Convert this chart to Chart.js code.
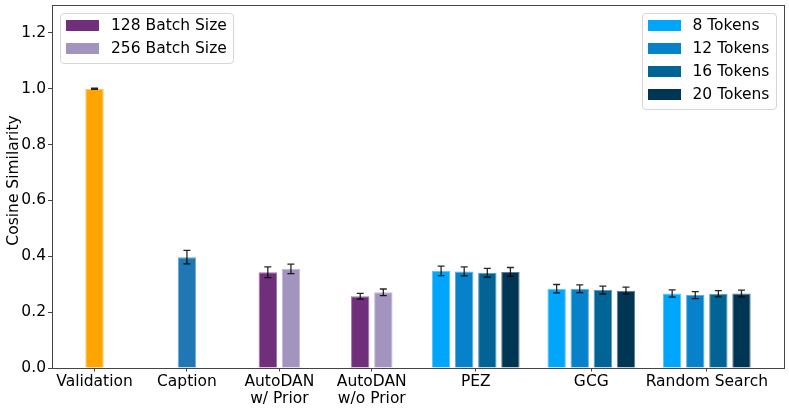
<!DOCTYPE html>
<html>
<head>
<meta charset="utf-8">
<title>Cosine Similarity by Method</title>
<script src="https://cdn.jsdelivr.net/npm/chart.js@4.4.1/dist/chart.umd.min.js"></script>
<style>
    body { margin: 0; background: #fff; }
    #wrap { position: relative; width: 789px; height: 411px; font-family: 'DejaVu Sans', sans-serif; }
    .legend { position: absolute; box-sizing: border-box; background: rgba(255, 255, 255, 0.8); border: 1px solid #d6d6d6; border-radius: 4px; }
    .legend .row { display: flex; align-items: center; height: 23px; font-size: 15.5px; color: #000; white-space: nowrap; }
    .legend .patch { width: 33px; height: 11px; margin: 0 12px 0 5px; flex: none; }
</style>
</head>
<body>
<div id="wrap">
    <canvas id="chart" width="789" height="411"></canvas>
    <div class="legend" id="batchLegend" style="left:60px; top:12.5px; width:174px; height:51px;"></div>
    <div class="legend" id="tokenLegend" style="left:641.5px; top:12.5px; width:135px; height:97.5px;"></div>
</div>
<script>
// Cosine similarity per method
const categories = ['Validation', 'Caption', 'AutoDAN\nw/ Prior', 'AutoDAN\nw/o Prior', 'PEZ', 'GCG', 'Random Search'];
const yTicks = [0, 0.2, 0.4, 0.6, 0.8, 1.0, 1.2];
const yTitle = 'Cosine Similarity';

// mean scores, null where a method has no such run
const validation = [1.0, null, null, null, null, null, null];
const caption    = [null, 0.397, null, null, null, null, null];
const batch128   = [null, null, 0.343, 0.257, null, null, null];
const batch256   = [null, null, 0.355, 0.271, null, null, null];
const tokens8    = [null, null, null, null, 0.348, 0.284, 0.267];
const tokens12   = [null, null, null, null, 0.346, 0.284, 0.261];
const tokens16   = [null, null, null, null, 0.341, 0.279, 0.266];
const tokens20   = [null, null, null, null, 0.344, 0.277, 0.267];

// error bar half lengths
const validationErr = [0.002, null, null, null, null, null, null];
const captionErr    = [null, 0.024, null, null, null, null, null];
const batch128Err   = [null, null, 0.019, 0.010, null, null, null];
const batch256Err   = [null, null, 0.017, 0.012, null, null, null];
const tokens8Err    = [null, null, null, null, 0.017, 0.015, 0.013];
const tokens12Err   = [null, null, null, null, 0.016, 0.014, 0.0125];
const tokens16Err   = [null, null, null, null, 0.016, 0.014, 0.011];
const tokens20Err   = [null, null, null, null, 0.016, 0.0125, 0.012];

const series = [
    { label: 'Validation', values: validation, errors: validationErr, color: '#FFA500' },
    { label: 'Caption', values: caption, errors: captionErr, color: '#1F77B4' },
    { label: '128 Batch Size', values: batch128, errors: batch128Err, color: '#702F7A' },
    { label: '256 Batch Size', values: batch256, errors: batch256Err, color: '#A393BF' },
    { label: '8 Tokens', values: tokens8, errors: tokens8Err, color: '#00A6FB' },
    { label: '12 Tokens', values: tokens12, errors: tokens12Err, color: '#0582CA' },
    { label: '16 Tokens', values: tokens16, errors: tokens16Err, color: '#006494' },
    { label: '20 Tokens', values: tokens20, errors: tokens20Err, color: '#003554' }
];

// layout of the grouped bars on a numeric x axis (axis units)
const BAR_STEP = 0.25;
const BAR_WIDTH = 0.2;
const FONT_SIZE = 15.5;

const counts = categories.map((_, c) => series.filter(s => s.values[c] != null).length);
const slots = counts.map(n => Math.max(1, (n + 1) * BAR_STEP));
const centers = [];
slots.forEach((w, i) => {
    centers.push(i === 0 ? 0 : centers[i - 1] + (slots[i - 1] + w) / 2);
});

const xFirst = centers[0] - (counts[0] - 1) / 2 * BAR_STEP - BAR_WIDTH / 2;
const xLast = centers[centers.length - 1] + (counts[counts.length - 1] - 1) / 2 * BAR_STEP + BAR_WIDTH / 2;
const xPad = (xLast - xFirst) * 0.05;

// lighter tint of a hex colour, used for the thin bar edge
function tint(hex, amount) {
    const n = parseInt(hex.slice(1), 16);
    const ch = [(n >> 16) & 255, (n >> 8) & 255, n & 255].map(v => Math.round(v + (255 - v) * amount));
    return `rgb(${ch.join(',')})`;
}

function buildDatasets() {
    const slotIndex = categories.map(() => 0);
    return series.map(s => {
        const data = [];
        s.values.forEach((v, c) => {
            if (v == null) return;
            const k = slotIndex[c]++;
            data.push({ x: centers[c] + (k - (counts[c] - 1) / 2) * BAR_STEP, y: v, err: s.errors[c] });
        });
        return {
            label: s.label,
            data: data,
            backgroundColor: s.color,
            borderColor: tint(s.color, 0.35),
            borderWidth: 1,
            grouped: false,
            categoryPercentage: 1,
            barPercentage: 10,
            maxBarThickness: 18.4
        };
    });
}

// error bars drawn through the y scale
const errorBarPlugin = {
    id: 'errorBars',
    afterDatasetsDraw(chart) {
        const ctx = chart.ctx;
        const yScale = chart.scales.y;
        ctx.save();
        ctx.strokeStyle = 'rgba(0, 0, 0, 0.85)';
        ctx.lineWidth = 1.3;
        chart.data.datasets.forEach((ds, di) => {
            chart.getDatasetMeta(di).data.forEach((bar, i) => {
                const p = ds.data[i];
                const top = yScale.getPixelForValue(p.y + p.err);
                const bottom = yScale.getPixelForValue(p.y - p.err);
                ctx.beginPath();
                ctx.moveTo(bar.x, top);
                ctx.lineTo(bar.x, bottom);
                ctx.moveTo(bar.x - 3.5, top);
                ctx.lineTo(bar.x + 3.5, top);
                ctx.moveTo(bar.x - 3.5, bottom);
                ctx.lineTo(bar.x + 3.5, bottom);
                ctx.stroke();
            });
        });
        ctx.restore();
    }
};

// box around the plot area and the y axis title
const framePlugin = {
    id: 'frame',
    afterDraw(chart) {
        const { left, top, right, bottom } = chart.chartArea;
        const ctx = chart.ctx;
        ctx.save();
        ctx.strokeStyle = '#444';
        ctx.lineWidth = 1;
        ctx.strokeRect(Math.round(left) + 0.5, Math.round(top) + 0.5, Math.round(right - left), Math.round(bottom - top));

        ctx.translate(13.5, (top + bottom) / 2 - 6);
        ctx.rotate(-Math.PI / 2);
        ctx.fillStyle = '#000';
        ctx.font = `${FONT_SIZE}px 'DejaVu Sans', sans-serif`;
        ctx.textAlign = 'center';
        ctx.textBaseline = 'middle';
        ctx.fillText(yTitle, 0, 0);
        ctx.restore();
    }
};

function buildLegend(id, labels) {
    const box = document.getElementById(id);
    series.filter(s => labels.includes(s.label)).forEach(s => {
        const row = document.createElement('div');
        row.className = 'row';
        row.innerHTML = `<span class="patch" style="background:${s.color}"></span><span>${s.label}</span>`;
        box.appendChild(row);
    });
}

document.addEventListener('DOMContentLoaded', function() {
    Chart.defaults.font.family = "'DejaVu Sans', sans-serif";
    Chart.defaults.font.size = FONT_SIZE;
    Chart.defaults.color = '#000';

    new Chart(document.getElementById('chart'), {
        type: 'bar',
        data: { datasets: buildDatasets() },
        options: {
            responsive: false,
            animation: false,
            layout: { padding: { left: 0, right: 5, top: 5, bottom: 0 } },
            plugins: {
                legend: { display: false },
                tooltip: { enabled: false }
            },
            scales: {
                x: {
                    type: 'linear',
                    min: xFirst - xPad,
                    max: xLast + xPad,
                    bounds: 'data',
                    offset: false,
                    grid: { display: true, offset: false, drawOnChartArea: false, drawTicks: true, tickLength: 3.5, color: '#444' },
                    border: { display: false },
                    afterBuildTicks: scale => { scale.ticks = centers.map(v => ({ value: v })); },
                    afterFit: scale => {
                        scale.height = 43;
                        scale.paddingLeft = 0;
                        scale.paddingRight = 0;
                    },
                    ticks: {
                        autoSkip: false,
                        maxRotation: 0,
                        padding: 2,
                        font: { size: FONT_SIZE, lineHeight: 1.08 },
                        callback: (value, index) => categories[index].split('\n')
                    }
                },
                y: {
                    min: 0,
                    max: 1.3,
                    bounds: 'data',
                    grid: { display: true, drawOnChartArea: false, drawTicks: true, tickLength: 4, color: '#444' },
                    border: { display: false },
                    afterBuildTicks: scale => { scale.ticks = yTicks.map(v => ({ value: v })); },
                    afterFit: scale => {
                        scale.width = 52;
                        scale.paddingTop = 0;
                        scale.paddingBottom = 0;
                    },
                    ticks: {
                        padding: 2,
                        callback: value => value.toFixed(1)
                    }
                }
            }
        },
        plugins: [errorBarPlugin, framePlugin]
    });

    buildLegend('batchLegend', ['128 Batch Size', '256 Batch Size']);
    buildLegend('tokenLegend', ['8 Tokens', '12 Tokens', '16 Tokens', '20 Tokens']);
});
</script>
</body>
</html>
